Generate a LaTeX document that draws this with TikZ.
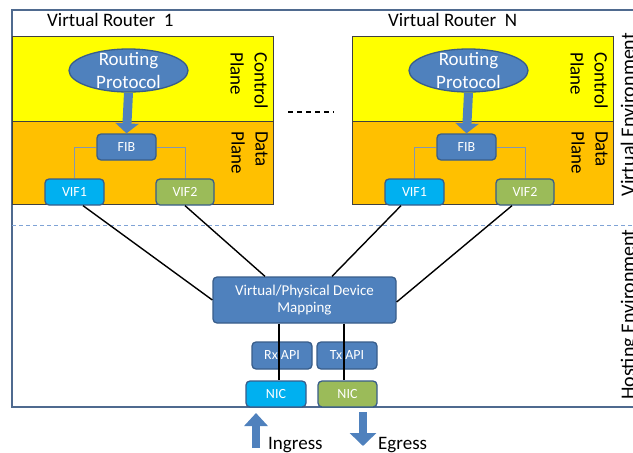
\documentclass[tikz,border=0pt]{standalone}
\usepackage{fontspec}
\setmainfont{Carlito}
\usetikzlibrary{calc,arrows.meta,shapes.geometric}
\definecolor{cpyellow}{HTML}{FFFF00}
\definecolor{dporange}{HTML}{FFC000}
\definecolor{boxblue}{HTML}{4F81BD}
\definecolor{boxedge}{HTML}{385D8A}
\definecolor{vifcyan}{HTML}{00B0F0}
\definecolor{vifgreen}{HTML}{9BBB59}
\definecolor{framecol}{HTML}{4F6A8F}
\definecolor{sepcol}{HTML}{7FA3D6}
\definecolor{routerline}{HTML}{404040}
\definecolor{fibgrey}{HTML}{8497B0}
\begin{document}
\begin{tikzpicture}[x=1pt,y=-1pt,
  plane/.style={draw=routerline, line width=0.8pt, inner sep=0pt, anchor=north west, minimum width=261pt},
  bbox/.style={draw=boxedge, fill=boxblue, rounded corners=4pt, line width=1.3pt, text=white,
    font=\fontsize{14}{16}\selectfont, inner sep=0pt, minimum height=26pt},
  rp/.style={ellipse, draw=boxedge, fill=boxblue, line width=1.3pt, minimum width=119pt, minimum height=43pt, inner sep=0pt},
  rptext/.style={text=white, align=center, font=\fontsize{19}{22.5}\selectfont, inner sep=0pt},
  planelabel/.style={rotate=-90, anchor=north west, align=left, inner sep=0pt, font=\fontsize{19}{24}\selectfont},
  title/.style={anchor=base west, inner sep=0pt, font=\fontsize{19}{22}\selectfont},
  envlabel/.style={rotate=90, anchor=base, inner sep=0pt, font=\fontsize{20}{24}\selectfont},
  blockarrow/.style={draw=boxblue, line width=9pt, -{Triangle[width=23pt,length=10pt]}},
  fibline/.style={draw=fibgrey, line width=1pt},
  link/.style={draw=black, line width=1.4pt},
  frame/.style={draw=framecol, line width=1.8pt},
  sep/.style={draw=sepcol, line width=1pt, dash pattern=on 4pt off 3pt},
  dots/.style={draw=black, line width=1.2pt, dash pattern=on 5pt off 4pt}
]
\useasboundingbox (0,0) rectangle (633,453);
\clip (0,0) rectangle (633,453);
\fill[white] (0,0) rectangle (633,453);

% outer frame and separator
\draw[frame] (645,10) -| (12,407) -- (645,407);
\coordinate (sepL) at (12,225);
\coordinate (sepR) at (640,225);
\draw[sep] (sepL) -- (sepR);

% router boxes
\node[plane, fill=cpyellow, minimum height=85pt] (cp1) at (12,36) {};
\node[plane, fill=dporange, minimum height=83pt] (dp1) at (12,121) {};
\node[plane, fill=cpyellow, minimum height=85pt] (cpN) at (352,36) {};
\node[plane, fill=dporange, minimum height=83pt] (dpN) at (352,121) {};

% titles
\node[title] (t1) at (47,26) {Virtual Router\ \ 1};
\node[title] (tN) at (388,26) {Virtual Router\ \ N};

% plane labels
\node[planelabel] (cl1) at (268,52) {Control\\Plane};
\node[planelabel] (dl1) at (268,131) {Data\\Plane};
\node[planelabel] (clN) at (608,52) {Control\\Plane};
\node[planelabel] (dlN) at (608,131) {Data\\Plane};

% routing protocol
\node[rp] (rp1) at (128.5,70.5) {};
\node[rptext] (rpt1) at (rp1) {Routing\\Protocol};
\node[rp] (rpN) at (468.5,70.5) {};
\node[rptext] (rptN) at (rpN) {Routing\\Protocol};

% FIB and VIFs
\node[bbox, minimum width=59pt] (fib1) at (126.5,147) {FIB};
\node[bbox, minimum width=59pt] (fibN) at (466.5,147) {FIB};
\node[bbox, fill=vifcyan, minimum width=59pt] (vif1) at (74.5,192) {VIF1};
\node[bbox, fill=vifgreen, minimum width=58pt] (vif2) at (185,192) {VIF2};
\node[bbox, fill=vifcyan, minimum width=59pt] (vif1N) at (414.5,192) {VIF1};
\node[bbox, fill=vifgreen, minimum width=58pt] (vif2N) at (525,192) {VIF2};

\draw[blockarrow] (rp1.south) -- (fib1.north);
\draw[blockarrow] (rpN.south) -- (fibN.north);

\draw[fibline] (fib1.west) -| (vif1.north);
\draw[fibline] (fib1.east) -| (vif2.north);
\draw[fibline] (fibN.west) -| (vif1N.north);
\draw[fibline] (fibN.east) -| (vif2N.north);

% dots between routers
\coordinate (d1) at (288,112);
\coordinate (d2) at (334,112);
\draw[dots] (d1) -- (d2);

% hosting environment
\node[bbox, minimum width=183pt, minimum height=46pt, align=center, font=\fontsize{15}{17}\selectfont] (map) at (304.5,300) {Virtual/Physical Device\\Mapping};
\node[bbox, minimum width=60pt, minimum height=27pt] (rx) at (282,355.5) {Rx API};
\node[bbox, minimum width=60pt, minimum height=27pt] (tx) at (347,355.5) {Tx API};
\node[bbox, fill=vifcyan, minimum width=60pt] (nic1) at (276,394) {NIC};
\node[bbox, fill=vifgreen, minimum width=59pt] (nic2) at (347.5,394) {NIC};

\draw[link] ($(vif1.south)+(8.5,0)$) -- (map.west);
\draw[link] (vif2.south) -- ($(map.north)+(-39.5,0)$);
\draw[link] ($(vif1N.south)+(-13.5,0)$) -- ($(map.north)+(27.5,0)$);
\draw[link] ($(vif2N.south)+(-13,0)$) -- ($(map.east)+(0,2)$);

\coordinate (v1) at ($(nic1.north)+(3,0)$);
\coordinate (v2) at ($(nic2.north)+(-3.5,0)$);
\draw[link] (v1 |- map.south) -- (v1);
\draw[link] (v2 |- map.south) -- (v2);

% ingress / egress
\coordinate (ingB) at (256,448);
\coordinate (ingT) at (256,413);
\coordinate (egT) at (363,412);
\coordinate (egB) at (363,446);
\draw[draw=boxblue, line width=8pt, -{Triangle[width=23pt,length=13pt]}] (ingB) -- (ingT);
\draw[draw=boxblue, line width=8pt, -{Triangle[width=26pt,length=13pt]}] (egT) -- (egB);
\node[title] (ing) at (268,449) {Ingress};
\node[title] (eg) at (378,449) {Egress};

% environment labels
\node[envlabel] (venv) at (634.5,114.5) {Virtual Environment};
\node[envlabel] (henv) at (634.5,314.5) {Hosting Environment};
\end{tikzpicture}
\end{document}
